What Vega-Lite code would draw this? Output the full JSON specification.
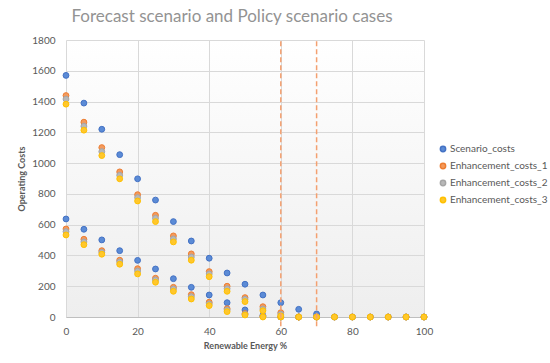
{
  "$schema": "https://vega.github.io/schema/vega-lite/v6.json",
  "autosize": "none",
  "width": 358,
  "height": 277,
  "padding": {"left": 66, "top": 40, "right": 126, "bottom": 46},
  "background": "white",
  "title": {
    "text": "Forecast scenario and Policy scenario cases",
    "font": "Lato",
    "fontSize": 17,
    "fontWeight": "normal",
    "color": "#939393",
    "anchor": "middle",
    "dx": -13,
    "offset": 9
  },
  "config": {
    "font": "Lato",
    "view": {
      "stroke": null,
      "fill": {"gradient": "linear", "x1": 0, "y1": 0, "x2": 0, "y2": 1, "stops": [{"offset": 0, "color": "#ffffff"}, {"offset": 1, "color": "#eeeeee"}]}
    },
    "axis": {
      "labelFont": "Lato",
      "labelFontSize": 10,
      "labelColor": "#595959",
      "labelOverlap": false,
      "labelFlush": false,
      "titleFont": "Lato",
      "titleFontSize": 9,
      "titleFontWeight": "bold",
      "titleColor": "#595959",
      "gridColor": "#d9d9d9",
      "ticks": false
    }
  },
  "encoding": {
    "x": {
      "field": "x", "type": "quantitative",
      "scale": {"domain": [0, 100], "nice": false},
      "axis": {"values": [0, 20, 40, 60, 80, 100], "format": "d", "title": "Renewable Energy %", "labelPadding": 9, "titlePadding": 5, "domainColor": "#bfbfbf", "grid": true, "labelOverlap": false}
    },
    "y": {
      "field": "cost", "type": "quantitative",
      "scale": {"domain": [0, 1800], "nice": false},
      "axis": {"values": [0, 200, 400, 600, 800, 1000, 1200, 1400, 1600, 1800], "format": "d", "title": "Operating Costs", "labelPadding": 11, "titlePadding": 5, "domain": false, "labelOverlap": false, "labelBound": false}
    }
  },
  "layer": [
    {
      "data": {
        "values": [
          {"x": 0, "case": "Policy", "Scenario_costs": 637, "Enhancement_costs_1": 572, "Enhancement_costs_2": 555, "Enhancement_costs_3": 533},
          {"x": 5, "case": "Policy", "Scenario_costs": 570, "Enhancement_costs_1": 505, "Enhancement_costs_2": 488, "Enhancement_costs_3": 470},
          {"x": 10, "case": "Policy", "Scenario_costs": 501, "Enhancement_costs_1": 431, "Enhancement_costs_2": 420, "Enhancement_costs_3": 408},
          {"x": 15, "case": "Policy", "Scenario_costs": 431, "Enhancement_costs_1": 369, "Enhancement_costs_2": 358, "Enhancement_costs_3": 343},
          {"x": 20, "case": "Policy", "Scenario_costs": 368, "Enhancement_costs_1": 314, "Enhancement_costs_2": 299, "Enhancement_costs_3": 280},
          {"x": 25, "case": "Policy", "Scenario_costs": 312, "Enhancement_costs_1": 252, "Enhancement_costs_2": 241, "Enhancement_costs_3": 226},
          {"x": 30, "case": "Policy", "Scenario_costs": 249, "Enhancement_costs_1": 193, "Enhancement_costs_2": 182, "Enhancement_costs_3": 167},
          {"x": 35, "case": "Policy", "Scenario_costs": 193, "Enhancement_costs_1": 145, "Enhancement_costs_2": 132, "Enhancement_costs_3": 117},
          {"x": 40, "case": "Policy", "Scenario_costs": 143, "Enhancement_costs_1": 96, "Enhancement_costs_2": 85, "Enhancement_costs_3": 74},
          {"x": 45, "case": "Policy", "Scenario_costs": 93, "Enhancement_costs_1": 54, "Enhancement_costs_2": 46, "Enhancement_costs_3": 35},
          {"x": 50, "case": "Policy", "Scenario_costs": 46, "Enhancement_costs_1": 22, "Enhancement_costs_2": 17, "Enhancement_costs_3": 13},
          {"x": 55, "case": "Policy", "Scenario_costs": 10, "Enhancement_costs_1": 5, "Enhancement_costs_2": 3, "Enhancement_costs_3": 0},
          {"x": 60, "case": "Policy", "Scenario_costs": 0, "Enhancement_costs_1": 0, "Enhancement_costs_2": 0, "Enhancement_costs_3": 0},
          {"x": 65, "case": "Policy", "Scenario_costs": 0, "Enhancement_costs_1": 0, "Enhancement_costs_2": 0, "Enhancement_costs_3": 0},
          {"x": 70, "case": "Policy", "Scenario_costs": 0, "Enhancement_costs_1": 0, "Enhancement_costs_2": 0, "Enhancement_costs_3": 0},
          {"x": 0, "case": "Forecast", "Scenario_costs": 1570, "Enhancement_costs_1": 1439, "Enhancement_costs_2": 1416, "Enhancement_costs_3": 1383},
          {"x": 5, "case": "Forecast", "Scenario_costs": 1390, "Enhancement_costs_1": 1266, "Enhancement_costs_2": 1240, "Enhancement_costs_3": 1214},
          {"x": 10, "case": "Forecast", "Scenario_costs": 1220, "Enhancement_costs_1": 1101, "Enhancement_costs_2": 1075, "Enhancement_costs_3": 1049},
          {"x": 15, "case": "Forecast", "Scenario_costs": 1055, "Enhancement_costs_1": 943, "Enhancement_costs_2": 921, "Enhancement_costs_3": 898},
          {"x": 20, "case": "Forecast", "Scenario_costs": 898, "Enhancement_costs_1": 795, "Enhancement_costs_2": 776, "Enhancement_costs_3": 754},
          {"x": 25, "case": "Forecast", "Scenario_costs": 760, "Enhancement_costs_1": 661, "Enhancement_costs_2": 642, "Enhancement_costs_3": 620},
          {"x": 30, "case": "Forecast", "Scenario_costs": 620, "Enhancement_costs_1": 527, "Enhancement_costs_2": 507, "Enhancement_costs_3": 488},
          {"x": 35, "case": "Forecast", "Scenario_costs": 494, "Enhancement_costs_1": 410, "Enhancement_costs_2": 390, "Enhancement_costs_3": 369},
          {"x": 40, "case": "Forecast", "Scenario_costs": 382, "Enhancement_costs_1": 295, "Enhancement_costs_2": 280, "Enhancement_costs_3": 262},
          {"x": 45, "case": "Forecast", "Scenario_costs": 286, "Enhancement_costs_1": 200, "Enhancement_costs_2": 184, "Enhancement_costs_3": 167},
          {"x": 50, "case": "Forecast", "Scenario_costs": 213, "Enhancement_costs_1": 126, "Enhancement_costs_2": 115, "Enhancement_costs_3": 100},
          {"x": 55, "case": "Forecast", "Scenario_costs": 143, "Enhancement_costs_1": 67, "Enhancement_costs_2": 52, "Enhancement_costs_3": 41},
          {"x": 60, "case": "Forecast", "Scenario_costs": 93, "Enhancement_costs_1": 28, "Enhancement_costs_2": 18, "Enhancement_costs_3": 7},
          {"x": 65, "case": "Forecast", "Scenario_costs": 50, "Enhancement_costs_1": 0, "Enhancement_costs_2": 0, "Enhancement_costs_3": 0},
          {"x": 70, "case": "Forecast", "Scenario_costs": 20, "Enhancement_costs_1": 0, "Enhancement_costs_2": 0, "Enhancement_costs_3": 0},
          {"x": 75, "case": "Forecast", "Scenario_costs": 0, "Enhancement_costs_1": 0, "Enhancement_costs_2": 0, "Enhancement_costs_3": 0},
          {"x": 80, "case": "Forecast", "Scenario_costs": 0, "Enhancement_costs_1": 0, "Enhancement_costs_2": 0, "Enhancement_costs_3": 0},
          {"x": 85, "case": "Forecast", "Scenario_costs": 0, "Enhancement_costs_1": 0, "Enhancement_costs_2": 0, "Enhancement_costs_3": 0},
          {"x": 90, "case": "Forecast", "Scenario_costs": 0, "Enhancement_costs_1": 0, "Enhancement_costs_2": 0, "Enhancement_costs_3": 0},
          {"x": 95, "case": "Forecast", "Scenario_costs": 0, "Enhancement_costs_1": 0, "Enhancement_costs_2": 0, "Enhancement_costs_3": 0},
          {"x": 100, "case": "Forecast", "Scenario_costs": 0, "Enhancement_costs_1": 0, "Enhancement_costs_2": 0, "Enhancement_costs_3": 0}
        ]
      },
      "transform": [
        {"fold": ["Scenario_costs", "Enhancement_costs_1", "Enhancement_costs_2", "Enhancement_costs_3"], "as": ["series", "cost"]}
      ],
      "mark": {"type": "point", "shape": "circle", "filled": true, "size": 34, "opacity": 1, "strokeWidth": 1},
      "encoding": {
        "color": {
          "field": "series", "type": "nominal",
          "scale": {
            "domain": ["Scenario_costs", "Enhancement_costs_1", "Enhancement_costs_2", "Enhancement_costs_3"],
            "range": ["#5b8bd6", "#f49a5c", "#b8b8b8", "#ffc72c"]
          },
          "legend": {
            "title": null,
            "orient": "none",
            "legendX": 372,
            "legendY": 104,
            "labelFont": "Lato",
            "labelFontSize": 10,
            "labelColor": "#595959",
            "symbolSize": 28,
            "symbolType": "circle",
            "rowPadding": 5,
            "labelOffset": 2
          }
        },
        "stroke": {
          "field": "series", "type": "nominal",
          "scale": {
            "domain": ["Scenario_costs", "Enhancement_costs_1", "Enhancement_costs_2", "Enhancement_costs_3"],
            "range": ["#4472c4", "#ed7d31", "#a5a5a5", "#ffc000"]
          },
          "legend": null
        }
      }
    },
    {
      "data": {"values": [{"x": 60, "cost": -60, "cost2": 1812}, {"x": 70, "cost": -60, "cost2": 1812}]},
      "mark": {"type": "rule", "color": "#f4a070", "strokeWidth": 1.5, "strokeDash": [5, 3], "clip": false},
      "encoding": {
        "y2": {"field": "cost2"}
      }
    }
  ]
}
